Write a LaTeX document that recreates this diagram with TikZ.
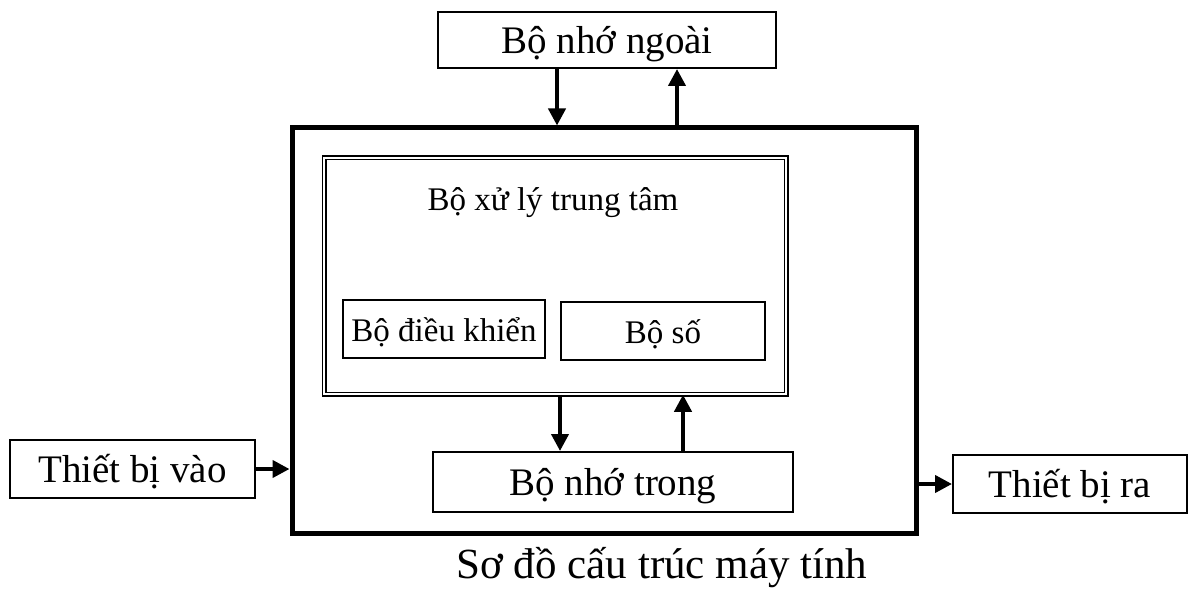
\documentclass[tikz,border=0pt]{standalone}
\usepackage{fontspec}
\setmainfont{Liberation Serif}
\usetikzlibrary{arrows.meta}
\begin{document}
\begin{tikzpicture}[x=1pt,y=-1pt,
  box/.style={draw,line width=2pt,rectangle,inner sep=0pt,text height=35pt,text depth=8pt,font=\fontsize{39}{42}\selectfont},
  smallbox/.style={draw,line width=2pt,rectangle,inner sep=0pt,text height=30pt,text depth=6pt,font=\fontsize{33}{36}\selectfont},
  arr/.style={line width=4pt,-{Triangle[length=17pt,width=17pt]}},
  lbl/.style={font=\fontsize{33}{36}\selectfont,inner sep=0pt}]
\useasboundingbox (0,0) rectangle (1189,591);
\node[box,minimum width=338pt,minimum height=56pt] (ext) at (607,40) {Bộ nhớ ngoài};
\node[draw,line width=5pt,rectangle,minimum width=624pt,minimum height=405pt] (main) at (604,330.5) {};
\node[draw,line width=1.5pt,double,double distance=2pt,rectangle,minimum width=462pt,minimum height=236pt] (cpu) at (555,276) {};
\node[lbl] (cpulbl) at (553,203) {Bộ xử lý trung tâm};
\node[smallbox,minimum width=202pt,minimum height=58pt] (ctrl) at (444,329) {Bộ điều khiển};
\node[smallbox,minimum width=204pt,minimum height=58pt] (alu) at (663,331) {Bộ số};
\node[box,minimum width=360pt,minimum height=60pt] (mem) at (613,482) {Bộ nhớ trong};
\node[box,minimum width=245pt,minimum height=58pt] (in) at (132.5,469) {Thiết bị vào};
\node[box,minimum width=234pt,minimum height=58pt] (out) at (1070,484) {Thiết bị ra};
\node[lbl,font=\fontsize{43}{46}\selectfont] (cap) at (662,568) {Sơ đồ cấu trúc máy tính};
\draw[arr] (ext.south -| 557,0) -- (main.north -| 557,0);
\draw[arr] (main.north -| 677,0) -- (ext.south -| 677,0);
\draw[arr] (cpu.south -| 560,0) -- (mem.north -| 560,0);
\draw[arr] (mem.north -| 683,0) -- (cpu.south -| 683,0);
\draw[arr] (in.east) -- (main.west |- in.east);
\draw[arr] (main.east |- out.west) -- (out.west);
\end{tikzpicture}
\end{document}
